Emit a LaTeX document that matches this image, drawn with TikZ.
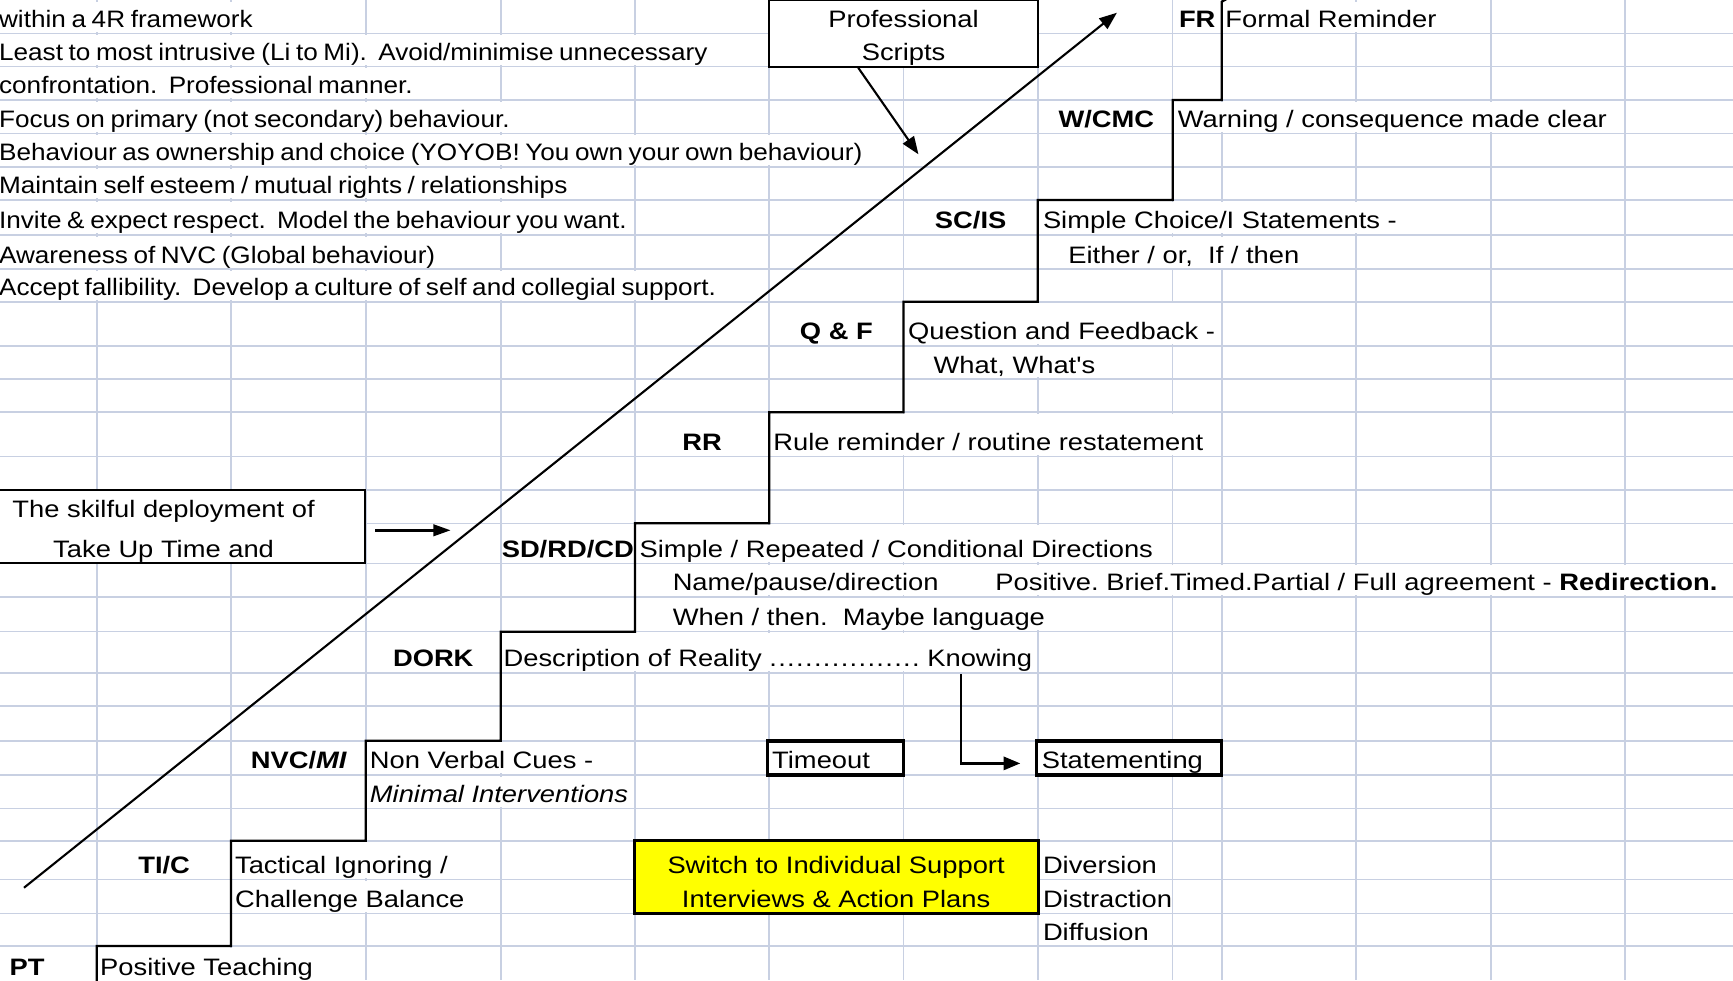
\documentclass[tikz,border=0pt]{standalone}
\usepackage{fontspec}
\setmainfont[FakeStretch=1.15,Ligatures=TeXOff]{Liberation Sans}
\newfontfamily\listfont[FakeStretch=1.10,Ligatures=TeXOff]{Liberation Sans}
\usetikzlibrary{arrows.meta}
\definecolor{gridc}{RGB}{200,208,226}
\definecolor{boxyellow}{RGB}{255,255,0}
\newcommand\celltxt[6][]{%
  \pgfmathsetmacro\ctb{#5-5.5}%
  \pgfmathsetmacro\cth{#5-#4-7}%
  \node[txt, text height=\cth pt, #1] (#2) at (#3,\ctb) {#6};}
\newcommand\dd{.\kern1.2pt}
\frenchspacing
\begin{document}
\begin{tikzpicture}[x=1pt,y=-1pt,
  gridline/.style={draw=gridc, line width=1.5pt},
  t/.style={inner sep=0pt, anchor=base west, font=\fontsize{21.5}{25}\selectfont},
  txt/.style={t, fill=white, text depth=4pt},
  listtxt/.style={font={\fontsize{21.5}{25}\listfont\frenchspacing\spaceskip=5.1pt plus 1pt minus 1pt\relax}},
  lbl/.style={anchor=base, font=\fontsize{21.5}{25}\selectfont\bfseries},
  boxtxt/.style={t, anchor=base},
  stair/.style={draw=black, line width=2pt},
  thinbox/.style={draw=black, line width=2pt, fill=white, inner sep=0pt},
  thickbox/.style={draw=black, line width=3.2pt, fill=white, inner sep=0pt},
  arr/.style={draw=black, line width=1.9pt, -{Triangle[length=16pt,width=12pt]}},
]
\useasboundingbox (0,0) rectangle (1568,887);
\clip (0,0) rectangle (1568,887);
\fill[white] (0,0) rectangle (1568,887);
% grid
\foreach \gx in {87.5,209,331,453,574.5,696,817.5,939,1061,1105.5,1227,1349,1470.5}
  \draw[gridline] (\gx,0) -- (\gx,887);
\foreach \gy in {30.2,60.3,90.5,120.7,151,181,212.6,243.6,273,312.8,343,373,413,443.4,473.5,509.7,539.9,571.5,608.7,638.8,670.2,701.2,731.4,760.7,795.6,826.4,856}
  \draw[gridline] (0,\gy) -- (1568,\gy);
% left list
\celltxt[listtxt]{l1}{-1}{0}{30.2}{within a 4R framework}
\celltxt[listtxt]{l2}{-1}{30.2}{60.3}{Least to most intrusive (Li to Mi).\ \ Avoid/minimise unnecessary}
\celltxt[listtxt]{l3}{-1}{60.3}{90.5}{confrontation.\ \ Professional manner.}
\celltxt[listtxt]{l4}{-1}{90.5}{120.7}{Focus on primary (not secondary) behaviour.}
\celltxt[listtxt]{l5}{-1}{120.7}{151}{Behaviour as ownership and choice (YOYOB! You own your own behaviour)}
\celltxt[listtxt]{l6}{-1}{151}{181}{Maintain self esteem / mutual rights / relationships}
\celltxt[listtxt]{l7}{-1}{181}{212.6}{Invite \& expect respect.\ \ Model the behaviour you want.}
\celltxt[listtxt]{l8}{-1}{212.6}{243.6}{Awareness of NVC (Global behaviour)}
\celltxt[listtxt]{l9}{-1}{243.6}{273}{Accept fallibility.\ \ Develop a culture of self and collegial support.}
% steps
\celltxt[lbl]{fr}{1083.25}{0}{30.2}{FR}
\celltxt{frt}{1108.5}{0}{30.2}{Formal Reminder}
\celltxt[lbl]{wcmc}{1001}{90.5}{120.7}{W/CMC}
\celltxt{wcmct}{1065.5}{90.5}{120.7}{Warning / consequence made clear}
\celltxt[lbl]{scis}{878.25}{181}{212.6}{SC/IS}
\celltxt{scist}{943.5}{181}{212.6}{Simple Choice/I Statements -}
\celltxt{scist2}{966.5}{212.6}{243.6}{Either / or,\ \ If / then}
\celltxt[lbl]{qf}{756.75}{273}{312.8}{Q \& F}
\celltxt{qft}{821.5}{273}{312.8}{Question and Feedback -}
\celltxt{qft2}{844.5}{312.8}{343}{What, What's}
\celltxt[lbl]{rr}{635.25}{373}{413}{RR}
\celltxt{rrt}{699.5}{373}{413}{Rule reminder / routine restatement}
\celltxt[lbl]{sd}{513.75}{473.5}{509.7}{SD/RD/CD}
\celltxt{sdt}{578.5}{473.5}{509.7}{Simple / Repeated / Conditional Directions}
\celltxt{sdt2}{608.5}{509.7}{539.9}{Name/pause/direction}
\celltxt{sdt3}{900.5}{509.7}{539.9}{Positive. Brief.Timed.Partial / Full agreement - \textbf{Redirection.}}
\celltxt{sdt4}{608.5}{539.9}{571.5}{When / then.\ \ Maybe language}
\celltxt[lbl]{dork}{392}{571.5}{608.7}{DORK}
\celltxt{dorkt}{455.5}{571.5}{608.7}{Description of Reality \dd\dd\dd\dd\dd\dd\dd\dd\dd\dd\dd\dd\dd\dd\dd\dd. Knowing}
\celltxt[lbl]{nvc}{270.5}{670.2}{701.2}{NVC/\textit{MI}}
\celltxt{nvct}{334.5}{670.2}{701.2}{Non Verbal Cues -}
\celltxt{nvct2}{334.5}{701.2}{731.4}{\textit{Minimal Interventions}}
\celltxt[lbl]{tic}{148.5}{760.7}{795.6}{TI/C}
\celltxt{tict}{212.5}{760.7}{795.6}{Tactical Ignoring /}
\celltxt{tict2}{212.5}{795.6}{826.4}{Challenge Balance}
\celltxt{dv1}{943.5}{760.7}{795.6}{Diversion}
\celltxt{dv2}{943.5}{795.6}{826.4}{Distraction}
\celltxt{dv3}{943.5}{826.4}{856}{Diffusion}
\celltxt[lbl, anchor=base west]{pt}{8.5}{856}{888}{PT}
\celltxt{ptt}{90.5}{856}{888}{Positive Teaching}
% boxes
\node[thinbox, minimum width=243.5pt, minimum height=60.3pt] (prof) at (817.25,30.15) {};
\node[boxtxt] (prof1) at (817.5,24.7) {Professional};
\node[boxtxt] (prof2) at (817.5,54.8) {Scripts};
\node[thinbox, minimum width=333.5pt, minimum height=66.3pt] (skill) at (163.75,476.55) {};
\node[boxtxt] (skill1) at (148,468) {The skilful deployment of};
\node[boxtxt] (skill2) at (148,504.2) {Take Up Time and};
\node[thickbox, minimum width=122.9pt, minimum height=31pt] (tout) at (756.05,685.7) {};
\node[t] (tout1) at (698.5,695.7) {Timeout};
\node[thickbox, minimum width=167.5pt, minimum height=31pt] (stm) at (1021.45,685.7) {};
\node[t] (stm1) at (942.5,695.7) {Statementing};
\node[draw=black, line width=2.5pt, fill=boxyellow, inner sep=0pt, minimum width=365.5pt, minimum height=65.7pt] (sw) at (756.95,793.55) {};
\node[boxtxt] (sw1) at (756.5,790.1) {Switch to Individual Support};
\node[boxtxt] (sw2) at (756.5,820.9) {Interviews \& Action Plans};
% staircase
\draw[stair] (87.5,892) |- (209,856) |- (331,760.7) |- (453,670.2) |- (574.5,571.5)
  |- (696,473.5) |- (817.5,373) |- (939,273) |- (1061,181) |- (1105.5,90.5)
  -- (1105.5,1.5) -- (1110,-1);
% arrows
\coordinate (d0) at (21.7,803.2);
\coordinate (d1) at (1010.6,11.5);
\draw[arr] (d0) -- (d1);
\coordinate (pend) at (831,139.6);
\draw[arr] ([xshift=-40.75pt]prof.south) -- (pend);
\coordinate (send) at (407.7,479.8);
\draw[draw=black, line width=2.2pt, -{Triangle[length=15.7pt,width=10.5pt]}] ([shift={(8,3.25)}]skill.east) -- (send);
\coordinate (kn) at (869.2,610);
\draw[draw=black, line width=2pt, -{Triangle[length=15pt,width=12pt]}] (kn) |- ([shift={(-13,5)}]stm.west);
\end{tikzpicture}
\end{document}
